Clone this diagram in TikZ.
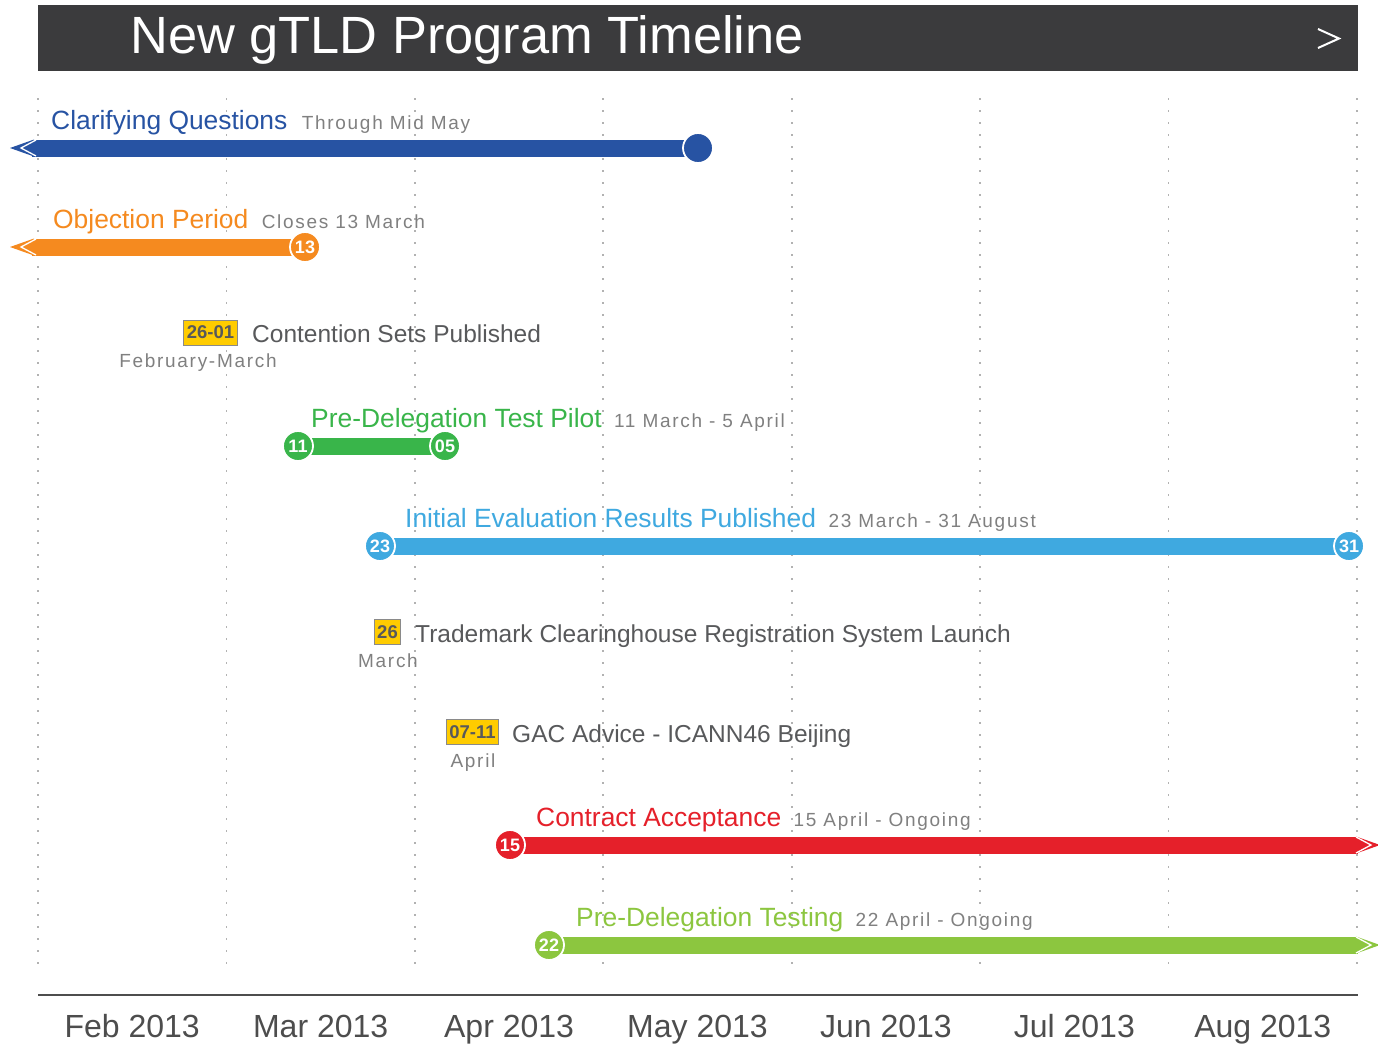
\documentclass[tikz,border=0pt]{standalone}
\usepackage{fontspec}
\setmainfont{Liberation Sans}
\usetikzlibrary{calc}

\definecolor{titlebar}{HTML}{3B3B3D}
\definecolor{cqblue}{HTML}{2753A3}
\definecolor{oporange}{HTML}{F58A1F}
\definecolor{ptgreen}{HTML}{39B54A}
\definecolor{ieblue}{HTML}{3FA9E0}
\definecolor{cared}{HTML}{E5202A}
\definecolor{pdlime}{HTML}{8CC63F}
\definecolor{tagyellow}{HTML}{FFCC00}
\definecolor{taggray}{HTML}{8A8A8A}
\definecolor{eventgray}{HTML}{58595B}
\definecolor{notegray}{HTML}{808080}
\definecolor{axisgray}{HTML}{4D4D4D}

\begin{document}
\begin{tikzpicture}[x=1pt,y=-1pt,
    bar/.style={line width=17pt},
    chev/.style={white, line width=1.3pt},
    datedot/.style={circle, draw=white, line width=1.8pt, minimum size=30pt, inner sep=0pt,
      text=white, font=\bfseries\fontsize{18}{18}\selectfont},
    tag/.style={fill=tagyellow, draw=taggray, line width=1pt, inner xsep=3pt, inner ysep=0pt,
      minimum height=25pt, text=eventgray, font=\bfseries\fontsize{18.5}{18.5}\selectfont},
    head/.style={anchor=base west, inner sep=0pt, font=\fontsize{26.4}{26.4}\selectfont},
    note/.style={anchor=base west, inner sep=0pt, text=notegray,
      font=\fontsize{19}{19}\selectfont\addfontfeature{LetterSpace=9}},
    event/.style={anchor=base west, inner sep=0pt, text=eventgray, font=\fontsize{24.5}{24.5}\selectfont},
    month/.style={anchor=base, inner sep=0pt, text=axisgray, font=\fontsize{32}{32}\selectfont},
    gridline/.style={gray!60, line width=1.6pt, dash pattern=on 1.6pt off 10.4pt}]
\useasboundingbox (0,0) rectangle (1378,1057);
\fill[white] (0,0) rectangle (1378,1057);

% title bar
\fill[titlebar] (38,5) rectangle (1358,71);
\node[anchor=base west, inner sep=0pt, text=white, font=\fontsize{52.4}{52.4}\selectfont] (title) at (130,54) {New gTLD Program Timeline};
\draw[white, line width=2pt] (1318,29) -- (1339,38.5) -- (1318,48);

% month grid
\foreach \i in {0,...,7}
  \draw[gridline] ({38+\i*188.43},98) -- ({38+\i*188.43},972);

% axis
\coordinate (axis-l) at (38,995);
\coordinate (axis-r) at (1358,995);
\draw[axisgray, line width=2pt] (axis-l) -- (axis-r);
\foreach \m [count=\i] in {Feb,Mar,Apr,May,Jun,Jul,Aug}
  \node[month] (m\i) at ({38+(\i-0.5)*188.43},1037) {\m\ 2013};

% clarifying questions
\node[head, text=cqblue] (cq-head) at (51,129) {Clarifying Questions};
\node[note] (cq-note) at ([xshift=14pt]cq-head.base east) {Through Mid May};
\coordinate (cq-tip) at (10,148);
\coordinate (cq-end) at (698,148);
\draw[bar, cqblue] ([xshift=22pt]cq-tip) -- (cq-end);
\fill[cqblue] (cq-tip) -- ++(24,-8.5) -- ++(0,17) -- cycle;
\draw[chev] ([shift={(26,-8)}]cq-tip) -- ([shift={(11,0)}]cq-tip) -- ([shift={(26,8)}]cq-tip);
\node[datedot, fill=cqblue] (cq-dot) at (cq-end) {};

% objection period
\node[head, text=oporange] (op-head) at (53,228) {Objection Period};
\node[note] (op-note) at ([xshift=13pt]op-head.base east) {Closes 13 March};
\coordinate (op-tip) at (10,247);
\coordinate (op-end) at (305,247);
\draw[bar, oporange] ([xshift=22pt]op-tip) -- (op-end);
\fill[oporange] (op-tip) -- ++(24,-8.5) -- ++(0,17) -- cycle;
\draw[chev] ([shift={(26,-8)}]op-tip) -- ([shift={(11,0)}]op-tip) -- ([shift={(26,8)}]op-tip);
\node[datedot, fill=oporange] (op-dot) at (op-end) {13};

% contention sets
\node[tag] (cs-tag) at (210.5,332.5) {26-01};
\node[event] (cs-text) at (252,342) {Contention Sets Published};
\node[note, anchor=base] (cs-when) at (198,367) {February-March};

% pre-delegation test pilot
\node[head, text=ptgreen] (pt-head) at (311,427) {Pre-Delegation Test Pilot};
\node[note] (pt-note) at ([xshift=12pt]pt-head.base east) {11 March - 5 April};
\coordinate (pt-start) at (298,446);
\coordinate (pt-end) at (445,446);
\draw[bar, ptgreen] (pt-start) -- (pt-end);
\node[datedot, fill=ptgreen] (pt-dot1) at (pt-start) {11};
\node[datedot, fill=ptgreen] (pt-dot2) at (pt-end) {05};

% initial evaluation
\node[head, text=ieblue] (ie-head) at (405,527) {Initial Evaluation Results Published};
\node[note] (ie-note) at ([xshift=12pt]ie-head.base east) {23 March - 31 August};
\coordinate (ie-start) at (380,546);
\coordinate (ie-end) at (1349,546);
\draw[bar, ieblue] (ie-start) -- (ie-end);
\node[datedot, fill=ieblue] (ie-dot1) at (ie-start) {23};
\node[datedot, fill=ieblue] (ie-dot2) at (ie-end) {31};

% trademark clearinghouse
\node[tag] (tm-tag) at (387.5,632) {26};
\node[event] (tm-text) at (415,642) {Trademark Clearinghouse Registration System Launch};
\node[note, anchor=base] (tm-when) at (388,667) {March};

% gac advice
\node[tag] (gac-tag) at (472.5,732) {07-11};
\node[event] (gac-text) at (512,742) {GAC Advice - ICANN46 Beijing};
\node[note, anchor=base] (gac-when) at (473,767) {April};

% contract acceptance
\node[head, text=cared] (ca-head) at (536,826) {Contract Acceptance};
\node[note] (ca-note) at ([xshift=12pt]ca-head.base east) {15 April - Ongoing};
\coordinate (ca-start) at (510,845);
\coordinate (ca-tip) at (1380,845);
\draw[bar, cared] (ca-start) -- ([xshift=-22pt]ca-tip);
\fill[cared] (ca-tip) -- ++(-24,-8.5) -- ++(0,17) -- cycle;
\draw[chev] ([shift={(-24,-8)}]ca-tip) -- ([shift={(-9,0)}]ca-tip) -- ([shift={(-24,8)}]ca-tip);
\node[datedot, fill=cared] (ca-dot) at (ca-start) {15};

% pre-delegation testing
\node[head, text=pdlime] (pd-head) at (576,926) {Pre-Delegation Testing};
\node[note] (pd-note) at ([xshift=12pt]pd-head.base east) {22 April - Ongoing};
\coordinate (pd-start) at (549,945);
\coordinate (pd-tip) at (1380,945);
\draw[bar, pdlime] (pd-start) -- ([xshift=-22pt]pd-tip);
\fill[pdlime] (pd-tip) -- ++(-24,-8.5) -- ++(0,17) -- cycle;
\draw[chev] ([shift={(-24,-8)}]pd-tip) -- ([shift={(-9,0)}]pd-tip) -- ([shift={(-24,8)}]pd-tip);
\node[datedot, fill=pdlime] (pd-dot) at (pd-start) {22};
\end{tikzpicture}
\end{document}
